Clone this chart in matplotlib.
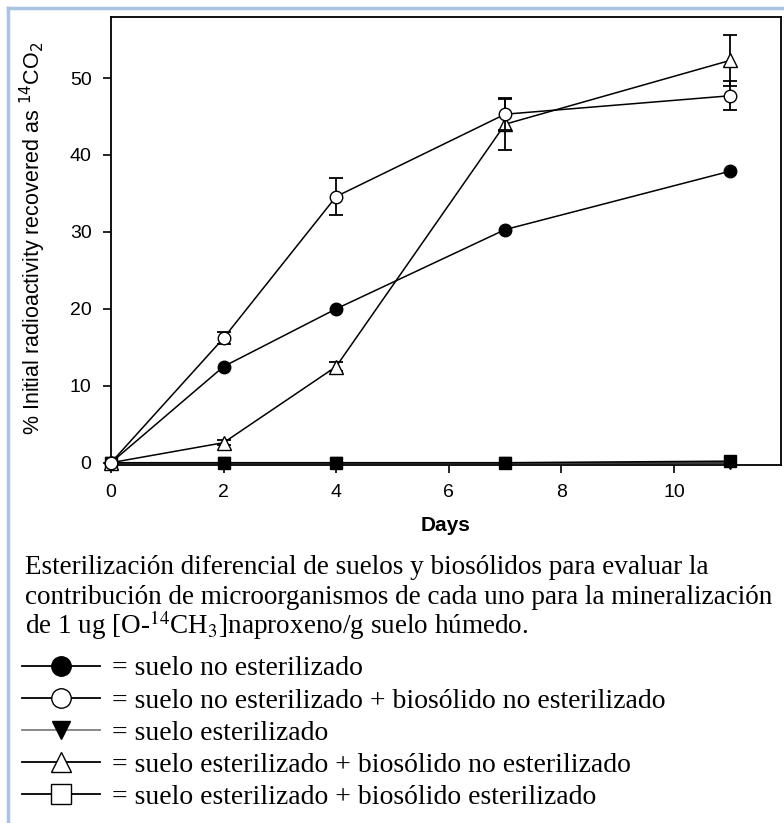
import matplotlib
matplotlib.use('Agg')
import matplotlib.pyplot as plt
from matplotlib.lines import Line2D

# data
days = [0, 2, 4, 7, 11]
suelo_ne = [0, 12.5, 20.0, 30.3, 37.9]
suelo_ne_bio = [0, 16.2, 34.6, 45.3, 47.7]
suelo_ne_bio_err = [0, 0.8, 2.4, 2.0, 1.9]
suelo_e = [0, 0, 0, 0, 0]
suelo_e_bio = [0, 2.6, 12.5, 44.0, 52.3]
suelo_e_bio_err = [0, 0.3, 0.6, 3.4, 3.3]
suelo_e_bio_e = [0, 0, 0, 0, 0.2]

x_ticks = [0, 2, 4, 6, 8, 10]
y_ticks = [0, 10, 20, 30, 40, 50]

caption = [
    'Esterilización diferencial de suelos y biosólidos para evaluar la',
    'contribución de microorganismos de cada uno para la mineralización',
    'de 1 ug [O-$^{14}$CH$_3$]naproxeno/g suelo húmedo.',
]
legend_labels = [
    '= suelo no esterilizado',
    '= suelo no esterilizado + biosólido no esterilizado',
    '= suelo esterilizado',
    '= suelo esterilizado + biosólido no esterilizado',
    '= suelo esterilizado + biosólido esterilizado',
]

plt.rcParams['font.family'] = ['Liberation Sans', 'DejaVu Sans']

fig = plt.figure(figsize=(7.84, 8.23), dpi=100)
ax = fig.add_axes([0.1416, 0.435, 0.8545, 0.544])

lw = 1.1
ms = 9
ax.plot(days, suelo_e_bio_e, '-s', color='black', lw=lw, ms=ms - 1,
        mfc='black', clip_on=False, zorder=3)
ax.plot(days, suelo_e, '-v', color='black', lw=lw, ms=ms,
        mfc='black', clip_on=False, zorder=3)
ax.plot(days, suelo_ne, '-o', color='black', lw=lw, ms=ms,
        mfc='black', clip_on=False, zorder=4)
ax.errorbar(days, suelo_e_bio, yerr=suelo_e_bio_err, fmt='-^', color='black',
            lw=lw, ms=ms + 1, mfc='white', capsize=5, elinewidth=1.3,
            capthick=1.3, clip_on=False, zorder=5)
ax.errorbar(days, suelo_ne_bio, yerr=suelo_ne_bio_err, fmt='-o', color='black',
            lw=lw, ms=ms, mfc='white', capsize=5, elinewidth=1.3,
            capthick=1.3, clip_on=False, zorder=6)

ax.set_xlim(0, 11.9)
ax.set_ylim(-0.3, 57.9)
ax.set_xticks(x_ticks)
ax.set_yticks(y_ticks)
ax.tick_params(direction='out', length=6, width=1.2, labelsize=14,
               top=False, right=False)
ax.tick_params(axis='y', pad=8)
ax.tick_params(axis='x', pad=8)
for sp in ax.spines.values():
    sp.set_linewidth(1.3)

ax.set_xlabel('Days', fontsize=15, fontweight='bold')
ax.xaxis.set_label_coords(0.5, -0.115)
ax.set_ylabel('% Initial radioactivity recovered as $^{14}$CO$_2$', fontsize=15.5,
              math_fontfamily='dejavusans')
ax.yaxis.set_label_coords(-0.094, 0.507)

# caption below the chart
serif = ['Liberation Serif', 'DejaVu Serif']
cap_y = [567, 597, 625]
for line, yp in zip(caption, cap_y):
    fig.text(25 / 784, 1 - yp / 823, line, family=serif, fontsize=19.5,
             va='center', ha='left', math_fontfamily='stix')

# legend rows as in the reference
handles = [
    Line2D([], [], color='black', lw=1.3, marker='o', ms=14, mfc='black'),
    Line2D([], [], color='black', lw=1.3, marker='o', ms=14, mfc='white'),
    Line2D([], [], color='gray', lw=1.3, marker='v', ms=13, mfc='black', mec='black'),
    Line2D([], [], color='black', lw=1.3, marker='^', ms=15, mfc='white'),
    Line2D([], [], color='black', lw=1.3, marker='s', ms=15, mfc='white'),
]
fig.legend(handles, legend_labels, loc='upper left',
           bbox_to_anchor=(22 / 784, 1 - 656 / 823), frameon=False,
           handlelength=2.8, handletextpad=0.45, labelspacing=0.24,
           borderpad=0, borderaxespad=0,
           prop={'family': 'Liberation Serif', 'size': 20})

# light blue frame at top and left
fig.add_artist(Line2D([8 / 784, 8 / 784], [0, 1 - 8 / 823],
                      transform=fig.transFigure, color='#a9c3e2', lw=2.5))
fig.add_artist(Line2D([8 / 784, 1], [1 - 8 / 823, 1 - 8 / 823],
                      transform=fig.transFigure, color='#a9c3e2', lw=2.5))

fig.savefig('out.png', dpi=100)
